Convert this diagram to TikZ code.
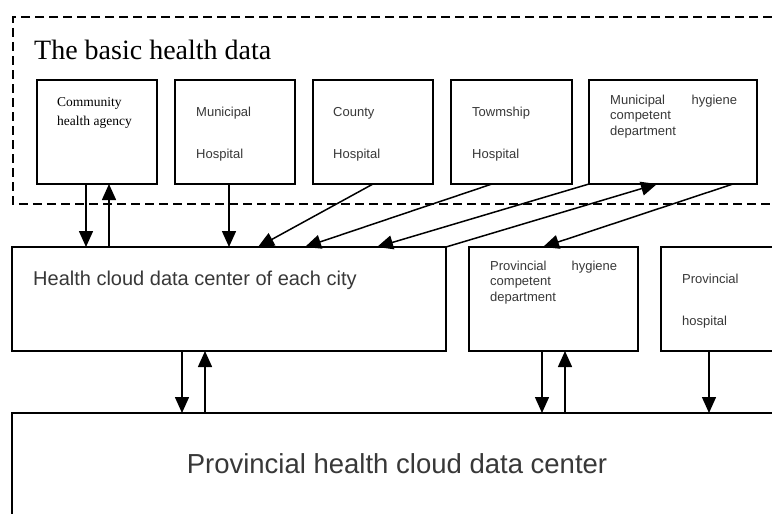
\documentclass[tikz,border=0pt]{standalone}
\usepackage{fontspec}
\setmainfont{Liberation Serif}
\newfontfamily\arial{Liberation Sans}
\usetikzlibrary{arrows.meta,calc}
\definecolor{txtgray}{HTML}{383838}
\begin{document}
\begin{tikzpicture}[x=1pt,y=-1pt,
  box/.style={draw, line width=1.5pt, anchor=north west, inner sep=0pt, outer sep=0pt,
              minimum height=104pt},
  % multi-line labels are placed by the baseline of their last line
  lbl/.style={anchor=base west, inner sep=0pt, align=left, text=txtgray},
  small/.style={lbl, font=\arial\fontsize{13}{15.5}\selectfont},
  spread/.style={lbl, font=\arial\fontsize{13}{41.5}\selectfont},
  arr/.style={line width=1.5pt, -{Triangle[length=16pt,width=14pt]}},
]
\clip (0,0) rectangle (772,514);
\fill[white] (0,0) rectangle (772,514);

% region of the basic health data
\draw[line width=1.5pt, dash pattern=on 9pt off 5pt] (800,17) -- (13,17) -- (13,204) -- (800,204);
\node[anchor=base west, inner sep=0pt, font=\fontsize{28}{30}\selectfont] (title) at (34,59) {The basic health data};

% data sources
\node[box, minimum width=120pt] (cha) at (37,80) {};
\node[box, minimum width=120pt] (mh)  at (175,80) {};
\node[box, minimum width=120pt] (ch)  at (313,80) {};
\node[box, minimum width=121pt] (th)  at (451,80) {};
\node[box, minimum width=168pt] (mhd) at (589,80) {};

\node[anchor=base west, inner sep=0pt, align=left, font=\fontsize{13.5}{19}\selectfont] (chat) at (57,125) {Community\\health agency};
\node[spread] (mht) at (196,158) {Municipal\\Hospital};
\node[spread] (cht) at (333,158) {County\\Hospital};
\node[spread] (tht) at (472,158) {Towmship\\Hospital};
\node[small] (mhdt) at (610,135) {\hbox to 127pt{Municipal\hfill hygiene}\\competent\\department};

% middle level
\node[box, minimum width=434pt] (city) at (12,247) {};
\node[box, minimum width=169pt] (phd)  at (469,247) {};
\node[box, minimum width=140pt] (ph)   at (661,247) {};

\node[lbl, font=\arial\fontsize{20}{24}\selectfont] (cityt) at (33,285) {Health cloud data center of each city};
\node[small] (phdt) at (490,301) {\hbox to 127pt{Provincial\hfill hygiene}\\competent\\department};
\node[lbl, font=\arial\fontsize{13}{42}\selectfont] (pht) at (682,325) {Provincial\\hospital};

% provincial center
\node[box, minimum width=800pt, minimum height=200pt] (prov) at (12,413) {};
\node[anchor=base, inner sep=0pt, text=txtgray, font=\arial\fontsize{27.5}{32}\selectfont] (provt) at (397,473) {Provincial health cloud data center};

% upload and feedback links
\draw[arr] ($(cha.south west)+(49,0)$) -- ($(city.north west)+(74,0)$);
\draw[arr] ($(city.north west)+(97,0)$) -- ($(cha.south west)+(72,0)$);
\draw[arr] ($(mh.south west)+(54,0)$) -- ($(city.north west)+(217,0)$);
\draw[arr] ($(ch.south west)+(60,0)$) -- ($(city.north west)+(246,0)$);
\draw[arr] ($(th.south west)+(41,0)$) -- ($(city.north west)+(293,0)$);
\draw[arr] (mhd.south west) -- ($(city.north west)+(365,0)$);
\draw[arr] (city.north east) -- ($(mhd.south west)+(68,0)$);
\draw[arr] ($(mhd.south west)+(144,0)$) -- ($(phd.north west)+(74,0)$);

\draw[arr] ($(city.south west)+(170,0)$) -- ($(prov.north west)+(170,0)$);
\draw[arr] ($(prov.north west)+(193,0)$) -- ($(city.south west)+(193,0)$);
\draw[arr] ($(phd.south west)+(73,0)$) -- ($(prov.north west)+(530,0)$);
\draw[arr] ($(prov.north west)+(553,0)$) -- ($(phd.south west)+(96,0)$);
\draw[arr] ($(ph.south west)+(48,0)$) -- ($(prov.north west)+(697,0)$);
\end{tikzpicture}
\end{document}
